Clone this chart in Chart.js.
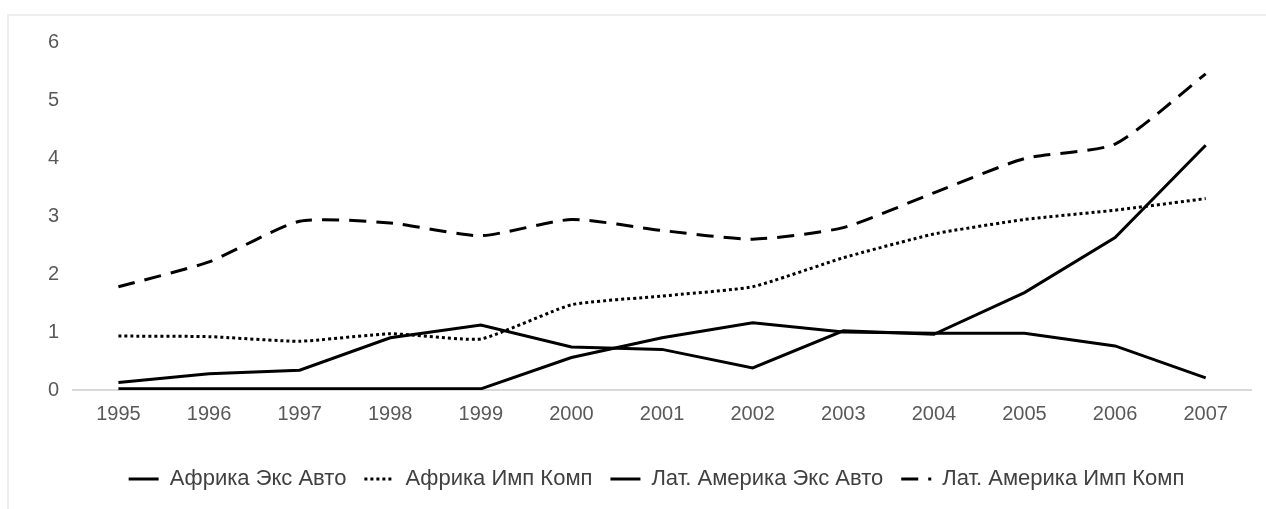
<!DOCTYPE html>
<html>
<head>
<meta charset="utf-8">
<script src="https://cdn.jsdelivr.net/npm/chart.js@4"></script>
<style>
  html, body { margin: 0; padding: 0; background: #fff; overflow: hidden; }
  #frame { position: absolute; left: 7px; top: 14px; width: 1300px; height: 600px; border: 2px solid #eeeeee; }
  #myChart { position: absolute; left: 0; top: 0; }
</style>
</head>
<body>
<div id="frame"></div>
<canvas id="myChart" width="1266" height="509"></canvas>
<script>
var years = ['1995', '1996', '1997', '1998', '1999', '2000', '2001', '2002', '2003', '2004', '2005', '2006', '2007'];
var yTicks = [0, 1, 2, 3, 4, 5, 6];

var africaExpAuto = [0.13, 0.28, 0.34, 0.90, 1.12, 0.74, 0.70, 0.38, 1.02, 0.96, 1.68, 2.63, 4.22];
var africaImpComp = [0.93, 0.92, 0.84, 0.97, 0.88, 1.47, 1.62, 1.78, 2.28, 2.69, 2.94, 3.10, 3.30];
var latamExpAuto = [0.02, 0.02, 0.02, 0.02, 0.02, 0.56, 0.90, 1.16, 1.00, 0.98, 0.98, 0.76, 0.21];
var latamImpComp = [1.78, 2.21, 2.91, 2.88, 2.66, 2.94, 2.75, 2.60, 2.80, 3.40, 3.99, 4.24, 5.45];

// nudge the legend a bit to the right, like the original
var legendShift = {
    id: 'legendShift',
    afterLayout: function(chart) {
        chart.legend.left += 14;
        chart.legend.right += 14;
    }
};

var ctx = document.getElementById('myChart').getContext('2d');
var chart = new Chart(ctx, {
    type: 'line',
    data: {
        labels: years,
        datasets: [{
            label: 'Африка Экс Авто',
            data: africaExpAuto,
            borderColor: '#000',
            backgroundColor: '#000',
            borderWidth: 3,
            tension: 0
        }, {
            label: 'Африка Имп Комп',
            data: africaImpComp,
            borderColor: '#000',
            backgroundColor: '#000',
            borderWidth: 3,
            borderDash: [3, 3],
            tension: 0.15
        }, {
            label: 'Лат. Америка Экс Авто',
            data: latamExpAuto,
            borderColor: '#000',
            backgroundColor: '#000',
            borderWidth: 3,
            tension: 0
        }, {
            label: 'Лат. Америка Имп Комп',
            data: latamImpComp,
            borderColor: '#000',
            backgroundColor: '#000',
            borderWidth: 3,
            borderDash: [17, 10],
            tension: 0.2
        }]
    },
    options: {
        responsive: false,
        animation: false,
        elements: { point: { radius: 0 } },
        layout: { padding: { top: 42, left: 34, right: 15, bottom: 9 } },
        scales: {
            x: {
                offset: true,
                grid: { display: false, drawTicks: false },
                border: { display: true, color: '#d9d9d9', width: 2 },
                ticks: { color: '#595959', padding: 12, font: { family: 'Liberation Sans, Arial, sans-serif', size: 20 } },
                afterFit: function(scale) { scale.height += 12; }
            },
            y: {
                min: 0,
                max: 6,
                afterBuildTicks: function(scale) { scale.ticks = yTicks.map(function(v) { return { value: v }; }); },
                grid: { display: false, drawTicks: false },
                border: { display: false },
                ticks: { color: '#595959', padding: 14, font: { family: 'Liberation Sans, Arial, sans-serif', size: 20 } }
            }
        },
        plugins: {
            legend: {
                position: 'bottom',
                labels: {
                    usePointStyle: true,
                    pointStyle: 'line',
                    pointStyleWidth: 30,
                    padding: 18,
                    color: '#404040',
                    font: { family: 'Liberation Sans, Arial, sans-serif', size: 22 },
                    generateLabels: function(chart) {
                        var items = Chart.defaults.plugins.legend.labels.generateLabels(chart);
                        items.forEach(function(item) {
                            var ds = chart.data.datasets[item.datasetIndex];
                            item.lineDash = ds.borderDash || [];
                            item.lineWidth = 3;
                        });
                        return items;
                    }
                }
            },
            title: { display: false },
            tooltip: { enabled: false }
        }
    },
    plugins: [legendShift]
});
</script>
</body>
</html>
